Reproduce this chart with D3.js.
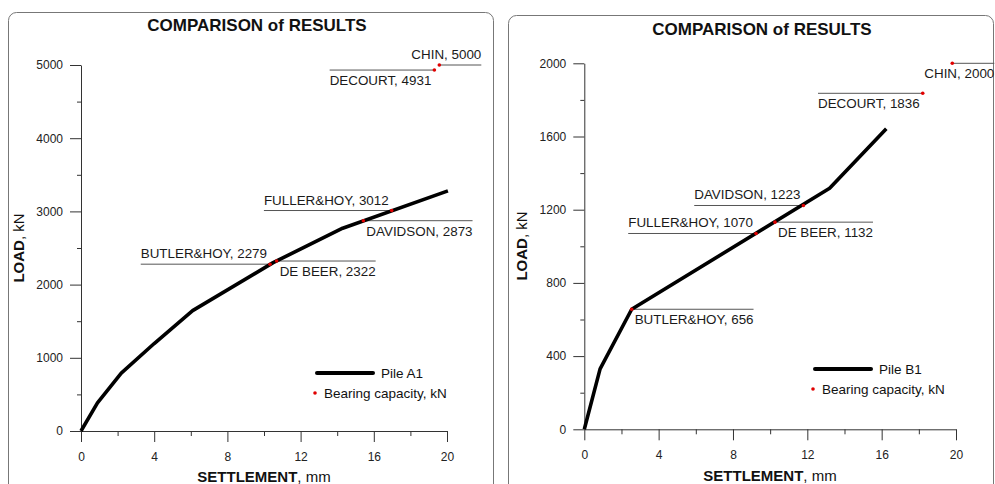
<!DOCTYPE html>
<html>
<head>
<meta charset="utf-8">
<script src="https://cdn.jsdelivr.net/npm/d3@7/dist/d3.min.js"></script>
<style>
  body { margin: 0; background: #fff; }
  svg { display: block; font-family: "Liberation Sans", Arial, sans-serif; }
  .axis path, .axis line { stroke: #333; }
</style>
</head>
<body>
<svg id="chart" width="995" height="484"></svg>
<script>
// pile A1 load test
const settlementA1 = [0, 0.9, 2.2, 4.0, 6.1, 10.5, 14.3, 20.05];
const loadA1 = [0, 385, 790, 1195, 1645, 2300, 2770, 3280];
const methodsA1 = ["CHIN", "DECOURT", "FULLER&HOY", "DAVIDSON", "BUTLER&HOY", "DE BEER"];
const capacityA1 = [5000, 4931, 3012, 2873, 2279, 2322];
const capSettlementA1 = [19.58, 19.31, 16.98, 15.43, 10.33, 10.69];

// pile B1 load test
const settlementB1 = [0, 0.85, 2.55, 13.2, 16.25];
const loadB1 = [0, 330, 656, 1317, 1642];
const methodsB1 = ["CHIN", "DECOURT", "DAVIDSON", "FULLER&HOY", "DE BEER", "BUTLER&HOY"];
const capacityB1 = [2000, 1836, 1223, 1070, 1132, 656];
const capSettlementB1 = [19.8, 18.21, 11.79, 9.24, 10.26, 2.55];

const xTicks = [0, 4, 8, 12, 16, 20];
const xMinor = [2, 6, 10, 14, 18];
const yTicksA1 = [0, 1000, 2000, 3000, 4000, 5000];
const yMinorA1 = [500, 1500, 2500, 3500, 4500];
const yTicksB1 = [0, 400, 800, 1200, 1600, 2000];
const yMinorB1 = [200, 600, 1000, 1400, 1800];

const svg = d3.select("#chart");

// layout of each panel (pixels)
const charts = [
    {
        name: "Pile A1", s: settlementA1, q: loadA1,
        methods: methodsA1, cap: capacityA1, capS: capSettlementA1,
        // dir: line goes left/right from the dot, pos: text above/below, len: fixed line length
        labels: [
            {dir: "right", pos: "above", len: 42},
            {dir: "left", pos: "below"},
            {dir: "left", pos: "above"},
            {dir: "right", pos: "below"},
            {dir: "left", pos: "above"},
            {dir: "right", pos: "below"}
        ],
        yMax: 5000, yTicks: yTicksA1, yMinor: yMinorA1,
        frame: {x: 8.5, y: 12.5}, titleX: 257, titleY: 30.5,
        x0: 81, x1: 447, y0: 431, y1: 65,
        xTitle: {x: 264, y: 482}, yTitle: {x: 24, y: 248},
        legend: {x: 317, y: 373}
    },
    {
        name: "Pile B1", s: settlementB1, q: loadB1,
        methods: methodsB1, cap: capacityB1, capS: capSettlementB1,
        labels: [
            {dir: "right", pos: "below", len: 42},
            {dir: "left", pos: "below"},
            {dir: "left", pos: "above"},
            {dir: "left", pos: "above"},
            {dir: "right", pos: "below"},
            {dir: "right", pos: "below"}
        ],
        yMax: 2000, yTicks: yTicksB1, yMinor: yMinorB1,
        frame: {x: 508.5, y: 15.5}, titleX: 762, titleY: 35,
        x0: 584.3, x1: 956, y0: 429.3, y1: 63.3,
        xTitle: {x: 770, y: 481}, yTitle: {x: 527, y: 246},
        legend: {x: 815, y: 369}
    }
];

charts.forEach(drawChart);

function styleTicks(sel) {
    sel.attr("font-family", null).attr("font-size", null);
    sel.selectAll("text")
        .style("font-family", '"Liberation Sans", Arial, sans-serif')
        .style("font-size", "12px")
        .attr("fill", "#222");
}

function drawChart(c) {
    const g = svg.append("g");

    // rounded frame, runs past the bottom of the picture
    g.append("rect")
        .attr("x", c.frame.x).attr("y", c.frame.y)
        .attr("width", 485).attr("height", 540)
        .attr("rx", 8)
        .attr("fill", "none")
        .attr("stroke", "#777");

    g.append("text")
        .attr("x", c.titleX).attr("y", c.titleY)
        .attr("text-anchor", "middle")
        .style("font-weight", "bold").style("font-size", "17px")
        .attr("fill", "#111")
        .text("COMPARISON of RESULTS");

    const x = d3.scaleLinear().domain([0, 20]).range([c.x0, c.x1]);
    const y = d3.scaleLinear().domain([0, c.yMax]).range([c.y0, c.y1]);

    // minor ticks first
    g.append("g").attr("class", "axis")
        .attr("transform", `translate(0,${c.y0})`)
        .call(d3.axisBottom(x).tickValues(xMinor).tickSize(5).tickSizeOuter(0).tickFormat(""))
        .select(".domain").remove();
    g.append("g").attr("class", "axis")
        .attr("transform", `translate(${c.x0},0)`)
        .call(d3.axisLeft(y).tickValues(c.yMinor).tickSize(4).tickSizeOuter(0).tickFormat(""))
        .select(".domain").remove();

    g.append("g").attr("class", "axis")
        .attr("transform", `translate(0,${c.y0})`)
        .call(d3.axisBottom(x).tickValues(xTicks).tickSize(11).tickSizeOuter(0)
            .tickPadding(10).tickFormat(d3.format("d")))
        .call(styleTicks);
    g.append("g").attr("class", "axis")
        .attr("transform", `translate(${c.x0},0)`)
        .call(d3.axisLeft(y).tickValues(c.yTicks).tickSize(11).tickSizeOuter(0)
            .tickPadding(7).tickFormat(d3.format("d")))
        .call(styleTicks);

    // axis titles
    const xt = g.append("text")
        .attr("x", c.xTitle.x).attr("y", c.xTitle.y)
        .attr("text-anchor", "middle")
        .style("font-size", "15px").attr("fill", "#111");
    xt.append("tspan").style("font-weight", "bold").text("SETTLEMENT");
    xt.append("tspan").text(", mm");

    const yt = g.append("text")
        .attr("transform", `translate(${c.yTitle.x},${c.yTitle.y}) rotate(-90)`)
        .attr("text-anchor", "middle")
        .style("font-size", "15px").attr("fill", "#111");
    yt.append("tspan").style("font-weight", "bold").text("LOAD");
    yt.append("tspan").text(", kN");

    // annotation lines sit under the curve
    const annLines = g.append("g");

    // load-settlement curve
    const pts = c.s.map((v, i) => [v, c.q[i]]);
    const line = d3.line().x(d => x(d[0])).y(d => y(d[1]));
    g.append("path")
        .datum(pts)
        .attr("d", line)
        .attr("fill", "none")
        .attr("stroke", "#000")
        .attr("stroke-width", 3.6)
        .attr("stroke-linejoin", "round");

    // bearing capacity annotations
    c.methods.forEach((m, i) => {
        const cx = x(c.capS[i]);
        const cy = y(c.cap[i]);
        const opt = c.labels[i];
        const label = g.append("text")
            .style("font-size", "13.4px")
            .attr("fill", "#1a1a1a")
            .text(`${m}, ${c.cap[i]}`);
        const tw = label.node().getComputedTextLength();
        const len = opt.len || tw + 3;
        const xEnd = opt.dir === "left" ? cx - len : cx + len;

        annLines.append("line")
            .attr("x1", cx).attr("x2", xEnd)
            .attr("y1", cy).attr("y2", cy)
            .attr("stroke", "#555").attr("stroke-width", 1);

        label.attr("x", xEnd)
            .attr("y", opt.pos === "above" ? cy - 6 : cy + 15)
            .attr("text-anchor", opt.dir === "left" ? "start" : "end");

        g.append("circle")
            .attr("cx", cx).attr("cy", cy).attr("r", 1.8)
            .attr("fill", "#e00000");
    });

    // legend
    const lg = g.append("g").attr("transform", `translate(${c.legend.x},${c.legend.y})`);
    lg.append("line")
        .attr("x1", 0).attr("x2", 56).attr("y1", 0).attr("y2", 0)
        .attr("stroke", "#000").attr("stroke-width", 4)
        .attr("stroke-linecap", "round");
    lg.append("text").attr("x", 64).attr("y", 5)
        .style("font-size", "13.5px").attr("fill", "#111")
        .text(c.name);
    lg.append("circle").attr("cx", -2).attr("cy", 20).attr("r", 1.8)
        .attr("fill", "#e00000");
    lg.append("text").attr("x", 7).attr("y", 25)
        .style("font-size", "13.5px").attr("fill", "#111")
        .text("Bearing capacity, kN");
}
</script>
</body>
</html>
